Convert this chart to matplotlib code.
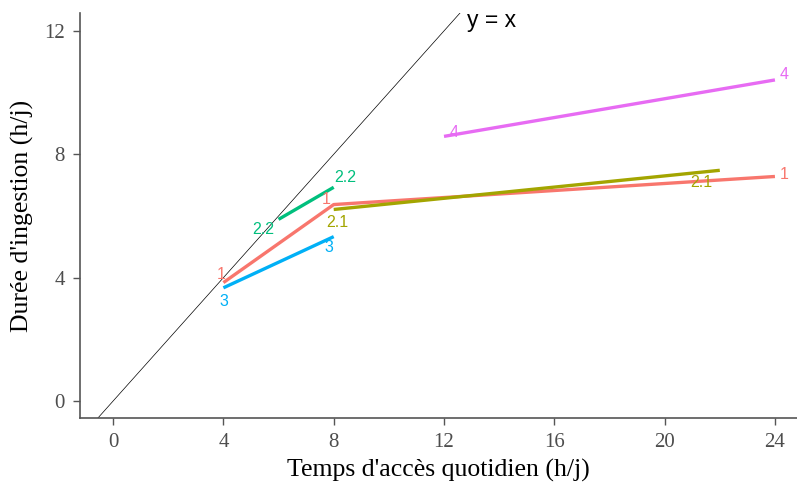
import matplotlib
matplotlib.use("Agg")
import matplotlib.pyplot as plt

# ---- data ----
groups = ["1", "2.1", "2.2", "3", "4"]
x_1 = [4, 8, 24]
y_1 = [3.84, 6.37, 7.28]
x_21 = [8, 22]
y_21 = [6.21, 7.48]
x_22 = [6, 8]
y_22 = [5.89, 6.93]
x_3 = [4, 8]
y_3 = [3.67, 5.33]
x_4 = [12, 24]
y_4 = [8.58, 10.41]
xticks = [0, 4, 8, 12, 16, 20, 24]
yticks = [0, 4, 8, 12]

colors = ["#F8766D", "#A3A500", "#00BF7D", "#00B0F6", "#E76BF3"]
series = [(x_1, y_1), (x_21, y_21), (x_22, y_22), (x_3, y_3), (x_4, y_4)]
# label pixel offsets per point (style)
offsets = [
    [(-2, 8), (-8, 5), (9, 2)],
    [(4, -13), (-18, -12)],
    [(-15, -10), (12, 10)],
    [(0, -14), (-5, -11)],
    [(10, 4), (9, 5)],
]

fig = plt.figure(figsize=(7.97, 4.86), dpi=100)
ax = fig.add_axes([80 / 797, (486 - 418) / 486, 717 / 797, 405 / 486])

ax.axline((0, 0), slope=1, color="black", lw=0.5, zorder=1)

for (xs, ys), c, g, offs in zip(series, colors, groups, offsets):
    ax.plot(xs, ys, color=c, lw=2.4, solid_capstyle="butt", zorder=2)
    for xv, yv, (dx, dy) in zip(xs, ys, offs):
        ax.annotate(g, (xv, yv), xytext=(dx, dy), textcoords="offset pixels",
                    ha="center", va="center", color=c, fontsize=11.5,
                    family="Liberation Sans", zorder=3)

ax.text(12.85, 12.35, "y = x", fontsize=16.5, family="Liberation Sans",
        ha="left", va="center", color="black")

ax.set_xlim(-1.2, 24.8)
ax.set_ylim(-0.55, 12.58)
ax.set_xticks(xticks)
ax.set_yticks(yticks)
for s in ["top", "right"]:
    ax.spines[s].set_visible(False)
for s in ["left", "bottom"]:
    ax.spines[s].set_color("#555555")
    ax.spines[s].set_linewidth(1.2)
ax.tick_params(colors="#555555", length=5, width=1, labelcolor="#4D4D4D",
               labelsize=15, pad=6)
for lab in ax.get_xticklabels() + ax.get_yticklabels():
    lab.set_family("Liberation Serif")

ax.set_xlabel("Temps d'accès quotidien (h/j)", family="Liberation Serif",
              fontsize=18.5, labelpad=5)
ax.set_ylabel("Durée d'ingestion (h/j)", family="Liberation Serif",
              fontsize=18.5, labelpad=7)

fig.savefig("out.png", dpi=100)
